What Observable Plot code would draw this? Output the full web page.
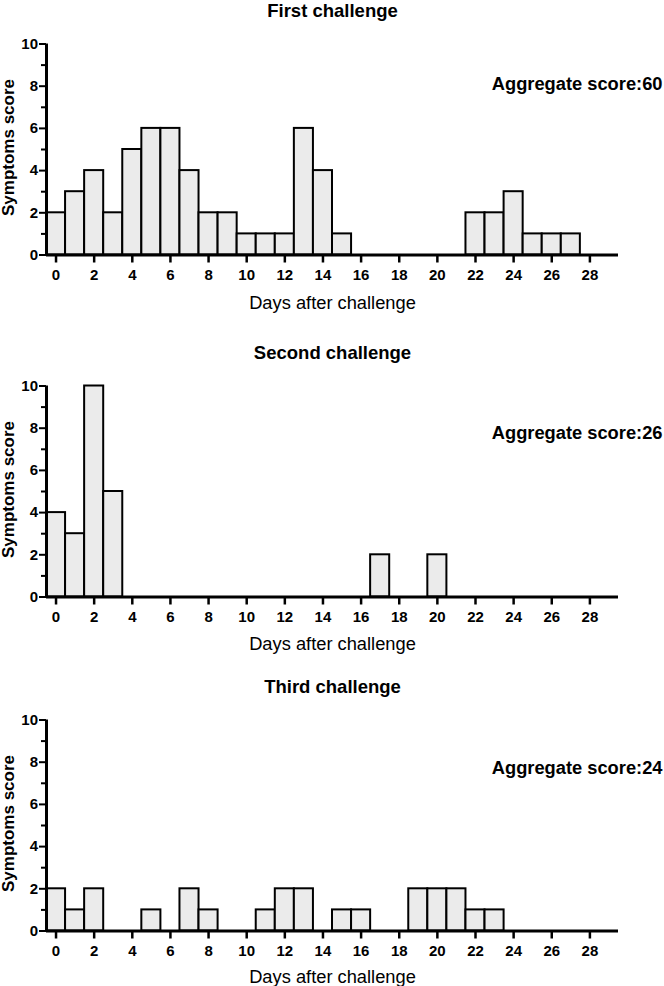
<!DOCTYPE html>
<html><head><meta charset="utf-8">
<script src="https://cdn.jsdelivr.net/npm/d3@7"></script>
<script src="https://cdn.jsdelivr.net/npm/@observablehq/plot@0.6"></script>
<style>
html,body{margin:0;padding:0;background:#fff;overflow:hidden}
#chart{position:relative;width:664px;height:986px;background:#fff}
#chart svg{position:absolute;left:0}
</style></head><body><div id="chart"></div>
<script>
// ---- data ----
const days = [0,1,2,3,4,5,6,7,8,9,10,11,12,13,14,15,16,17,18,19,20,21,22,23,24,25,26,27];
const firstScores  = [2,3,4,2,5,6,6,4,2,2,1,1,1,6,4,1,0,0,0,0,0,0,2,2,3,1,1,1];
const secondScores = [4,3,10,5,0,0,0,0,0,0,0,0,0,0,0,0,0,2,0,0,2,0,0,0,0,0,0,0];
const thirdScores  = [2,1,2,0,0,1,0,2,1,0,0,1,2,2,0,1,1,0,0,2,2,2,1,1,0,0,0,0];
const titles = ["First challenge", "Second challenge", "Third challenge"];
const aggregateLabels = ["Aggregate score:60", "Aggregate score:26", "Aggregate score:24"];
const xTicks = [0,2,4,6,8,10,12,14,16,18,20,22,24,26,28];
const yTicks = [0,2,4,6,8,10];
const yMinorTicks = [1,3,5,7,9];
const xDomain = [-0.5, 29.5];
const yDomain = [0, 10];
const xLabel = "Days after challenge";
const yLabel = "Symptoms score";

const FONT = "'Liberation Sans', Arial, Helvetica, sans-serif";
const series = [firstScores, secondScores, thirdScores];
const layout = [{top: 0, aggDy: 45.6, xlDy: 53.5}, {top: 342, aggDy: 53.3, xlDy: 52.6}, {top: 675.5, aggDy: 54.3, xlDy: 51.5}];
const noText = () => "";

const container = document.getElementById("chart");
series.forEach((scores, k) => {
  const data = days.map((day, i) => ({day, score: scores[i]})).filter(d => d.score > 0);
  const svg = Plot.plot({
    width: 664, height: 311,
    marginTop: 43.5, marginBottom: 56.5, marginLeft: 46, marginRight: 46,
    x: {domain: xDomain},
    y: {domain: yDomain},
    style: {fontFamily: FONT, fontSize: "15px", color: "black", background: "transparent", overflow: "visible"},
    marks: [
      Plot.rectY(data, {x1: d => d.day - 0.5, x2: d => d.day + 0.5, y1: 0, y2: "score",
        fill: "#ebebeb", stroke: "black", strokeWidth: 2}),
      Plot.axisY({ticks: yMinorTicks, tickSize: 5, tickFormat: noText, strokeWidth: 2, label: null}),
      Plot.axisY({ticks: yTicks, tickSize: 7, tickFormat: noText, strokeWidth: 2, label: null}),
      Plot.axisX({ticks: xTicks, tickSize: 8, tickFormat: noText, strokeWidth: 2.5, label: null}),
      Plot.text(yTicks, {y: d => d, text: d => String(d), frameAnchor: "left", textAnchor: "end",
        dx: -8.5, fontSize: 15, fontWeight: "bold"}),
      Plot.text(xTicks, {x: d => d, text: d => String(d), frameAnchor: "bottom", lineAnchor: "top",
        dy: 14.8, fontSize: 15, fontWeight: "bold"}),
      Plot.ruleX([xDomain[0]], {y1: yDomain[0], y2: yDomain[1], strokeWidth: 3}),
      Plot.ruleY([yDomain[0]], {x1: xDomain[0], x2: xDomain[1], strokeWidth: 3}),
      Plot.text([titles[k]], {text: d => d, frameAnchor: "top", lineAnchor: "bottom", dy: -26.8,
        fontSize: 18.5, fontWeight: "bold"}),
      Plot.text([aggregateLabels[k]], {text: d => d, frameAnchor: "top-right", textAnchor: "end",
        lineAnchor: "bottom", dx: 44, dy: layout[k].aggDy, fontSize: 18.3, fontWeight: "bold"}),
      Plot.text([xLabel], {text: d => d, frameAnchor: "bottom", lineAnchor: "bottom", dy: layout[k].xlDy,
        fontSize: 18.3}),
      Plot.text([yLabel], {text: d => d, frameAnchor: "left", textAnchor: "middle", rotate: -90,
        lineAnchor: "bottom", dx: -32.7, dy: -2, fontSize: 17, fontWeight: "bold"})
    ]
  });
  svg.style.top = layout[k].top + "px";
  container.appendChild(svg);
});
</script>
</body></html>
